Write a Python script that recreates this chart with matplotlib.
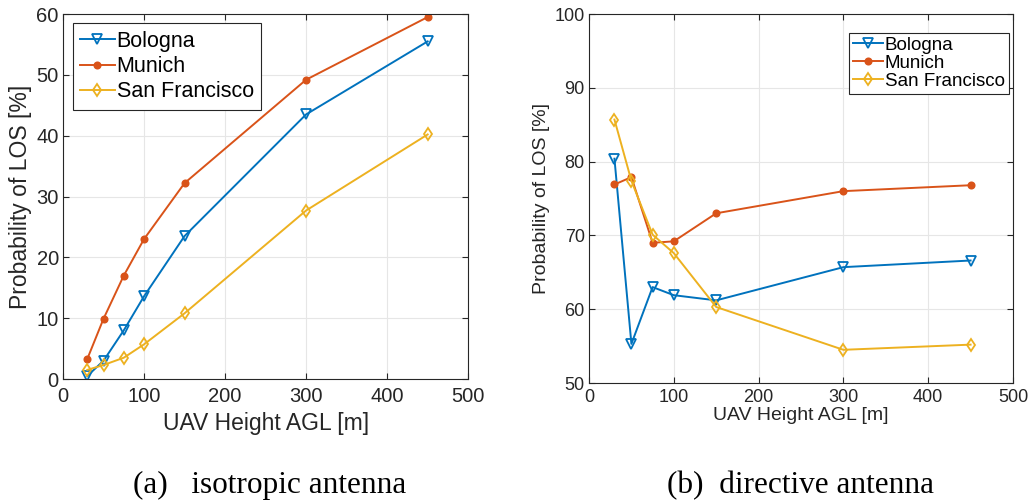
import matplotlib.pyplot as plt
import numpy as np

# UAV height above ground level [m]
heights = [30, 50, 75, 100, 150, 300, 450]
cities = ['Bologna', 'Munich', 'San Francisco']

# (a) isotropic antenna, LOS probability [%]
iso_bologna = [0.5, 3.0, 8.0, 13.6, 23.5, 43.5, 55.5]
iso_munich = [3.3, 9.9, 17.0, 23.0, 32.2, 49.2, 59.5]
iso_sf = [1.5, 2.3, 3.5, 5.7, 10.8, 27.7, 40.2]

# (b) directive antenna, LOS probability [%]
dir_bologna = [80.4, 55.3, 63.0, 61.9, 61.2, 65.7, 66.6]
dir_munich = [76.9, 77.9, 69.0, 69.2, 73.0, 76.0, 76.8]
dir_sf = [85.7, 77.4, 70.1, 67.6, 60.3, 54.5, 55.2]

colors = ['#0072BD', '#D95319', '#EDB120']
markers = ['v', 'o', 'd']
msizes = [7, 4.5, 6]

plt.rcParams['font.family'] = ['Liberation Sans', 'DejaVu Sans']

fig = plt.figure(figsize=(10.31, 5.01), dpi=100)
ax1 = fig.add_axes([0.0611, 0.2435, 0.393, 0.7285])
ax2 = fig.add_axes([0.5713, 0.2355, 0.4112, 0.7365])


def draw(ax, series, ylim, yticks, fs_tick, fs_label, fs_leg, xpad, xlabpad, leg_kw):
    for vals, c, m, ms, name in zip(series, colors, markers, msizes, cities):
        filled = m == 'o'
        ax.plot(heights, vals, color=c, lw=1.4, marker=m, ms=ms,
                mfc=c if filled else 'none', mec=c, mew=1.3, label=name)
    ax.set_xlim(0, 500)
    ax.set_ylim(*ylim)
    ax.set_xticks(np.arange(0, 501, 100))
    ax.set_yticks(yticks)
    ax.grid(True, color='#e6e6e6', lw=0.8)
    ax.set_axisbelow(True)
    ax.tick_params(direction='in', top=True, right=True, labelsize=fs_tick,
                   colors='#262626', length=4, pad=3)
    ax.tick_params(axis='x', pad=xpad)
    for s in ax.spines.values():
        s.set_color('#262626')
        s.set_linewidth(0.8)
    ax.set_xlabel('UAV Height AGL [m]', fontsize=fs_label, color='#262626',
                  labelpad=xlabpad)
    ax.set_ylabel('Probability of LOS [%]', fontsize=fs_label, color='#262626', labelpad=3)
    leg = ax.legend(fontsize=fs_leg, fancybox=False, edgecolor='#262626',
                    handlelength=1.6, handletextpad=0.1, framealpha=1, **leg_kw)
    leg.get_frame().set_linewidth(0.8)


draw(ax1, [iso_bologna, iso_munich, iso_sf], (0, 60), np.arange(0, 61, 10),
     14.5, 16.5, 15.5, 6, 4,
     dict(loc='upper left', bbox_to_anchor=(-0.003, 1.004), borderpad=0.35,
          labelspacing=0.2))
draw(ax2, [dir_bologna, dir_munich, dir_sf], (50, 100), np.arange(50, 101, 10),
     13, 14, 13.5, 4, 1,
     dict(loc='upper right', bbox_to_anchor=(1.012, 0.974), borderpad=0.2,
          labelspacing=0.05))

fig.text(0.262, 0.016, '(a)   isotropic antenna', ha='center', va='baseline',
         fontsize=22.5, family=['Liberation Serif', 'DejaVu Serif'])
fig.text(0.776, 0.016, '(b)  directive antenna', ha='center', va='baseline',
         fontsize=22.5, family=['Liberation Serif', 'DejaVu Serif'])

fig.savefig('out.png', dpi=100)
